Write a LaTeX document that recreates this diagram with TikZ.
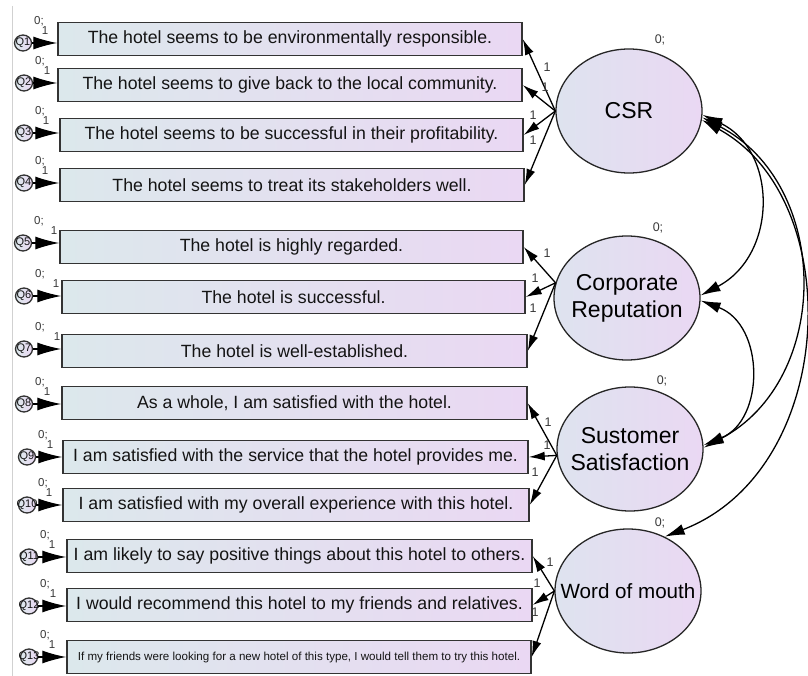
\documentclass[tikz,border=0pt]{standalone}
\usepackage{fontspec}
\setmainfont{Liberation Sans}
\usetikzlibrary{shapes.geometric,arrows.meta}
\definecolor{boxleft}{HTML}{DCE8EC}
\definecolor{boxright}{HTML}{EAD8F3}
\definecolor{latleft}{HTML}{DEE3EF}
\definecolor{lblgray}{HTML}{383838}

\begin{document}
\begin{tikzpicture}[x=1pt,y=-1pt]
        \tikzstyle{every node}=[font=\fontsize{17.7}{20}\selectfont, text=black!92];
        \tikzstyle{obs}=[draw=black!80, line width=1.4pt, left color=boxleft, right color=boxright, minimum height=33pt, inner sep=0pt];
        \tikzstyle{err}=[draw=black!80, line width=1.3pt, ellipse, left color=boxleft, right color=boxright, minimum width=17pt, minimum height=16pt, inner xsep=-7pt, inner ysep=-3pt, font=\fontsize{11}{12}\selectfont];
        \tikzstyle{lat}=[draw=black!85, line width=1.3pt, ellipse, left color=latleft, right color=boxright, minimum width=146pt, minimum height=124pt, inner xsep=-20pt, inner ysep=0pt, align=center, font=\fontsize{23}{27}\selectfont, text=black];
        \tikzstyle{small}=[font=\fontsize{11.5}{12}\selectfont, text=lblgray, inner sep=0pt];
        \tikzstyle{est}=[font=\fontsize{12.5}{13}\selectfont, text=lblgray, inner sep=0pt];
        \tikzstyle{errarr}=[-{Latex[length=24pt,width=13pt]}, line width=1.3pt];
        \tikzstyle{load}=[-{Latex[length=16pt,width=9pt]}, line width=1.3pt];
        \tikzstyle{cov}=[{Latex[length=20pt,width=11pt]}-{Latex[length=20pt,width=11pt]}, line width=1.3pt];

        \useasboundingbox (0,0) rectangle (808,676);
        \draw[black!18] (12,6) -- (12,676);

        % observed items with their error terms
        \foreach \n/\l/\r/\y/\ex/\ey/\ix/\txt in {
            1/58/522/39/23/43/45/{The hotel seems to be environmentally responsible.},
            2/58/522/85/24/83/47/{The hotel seems to give back to the local community.},
            3/60/523/135/24/133/46/{The hotel seems to be successful in their profitability.},
            4/60/524/185/24/183/45/{The hotel seems to treat its stakeholders well.},
            5/60/523/247/23/243/54/{The hotel is highly regarded.},
            6/62/525/297/24/296/56/{The hotel is successful.},
            7/62/527/351/24/349/57/{The hotel is well-established.},
            8/62/527/403/24/404/47/{As a whole, I am satisfied with the hotel.},
            9/63/528/457/27/457/50/{I am satisfied with the service that the hotel provides me.},
            10/63/529/505/27/505/49/{I am satisfied with my overall experience with this hotel.},
            11/67/532/556/29/557/52/{I am likely to say positive things about this hotel to others.},
            12/67/532/605/29/606/53/{I would recommend this hotel to my friends and relatives.},
            13/67/531/657/29/657/52/{\fontsize{11.6}{13}\selectfont If my friends were looking for a new hotel of this type, I would tell them to try this hotel.}}
        {
            \node[obs, minimum width=\r-\l] (b\n) at ({(\l+\r)/2},\y) {\txt};
            \node[err] (e\n) at (\ex,\ey) {Q\n};
            \draw[errarr] (e\n) -- (b\n.west |- e\n);
            \node[small] (z\n) at (\ex+16,\ey-22) {0;};
            \node[small] (w\n) at (\ix,\ey-12) {1};
        }

        % latent factors
        \node[lat] (csr) at (629,111) {CSR};
        \node[lat] (cr) at (627,298) {Corporate\\Reputation};
        \node[lat] (cs) at (630,449) {Sustomer\\Satisfaction};
        \node[lat, font=\fontsize{20.6}{24}\selectfont] (wom) at (628,591) {Word of mouth};
        \node[est] (zcsr) at (660,40) {0;};
        \node[est] (zcr) at (658,228) {0;};
        \node[est] (zcs) at (662,381) {0;};
        \node[est] (zwom) at (660,523) {0;};

        % loadings
        \foreach \i in {1,...,4} \draw[load] (csr.west) -- (b\i.east);
        \foreach \i in {5,6,7} \draw[load] (cr.168) -- (b\i.east);
        \foreach \i in {8,9,10} \draw[load] (cs.185) -- (b\i.east);
        \foreach \i in {11,12,13} \draw[load] (wom.west) -- (b\i.east);
        \foreach \x/\y in {547/67, 545/87, 533/115, 533/140, 547/253, 535/278, 533/308,
            548/422, 547/445, 535/472, 550/562, 537/583, 535/612}
            \node[est] at (\x,\y) {1};

        % covariances
        \draw[cov] (csr.-3) .. controls (778,150) and (778,255) .. (cr.2);
        \draw[cov] (cr.-2) .. controls (765,325) and (765,420) .. (cs.3);
        \draw[cov] (csr.-5) .. controls (832,185) and (832,380) .. (cs.1);
        \draw[cov] (csr.-7) .. controls (848,200) and (838,470) .. (wom.56);
\end{tikzpicture}
\end{document}
